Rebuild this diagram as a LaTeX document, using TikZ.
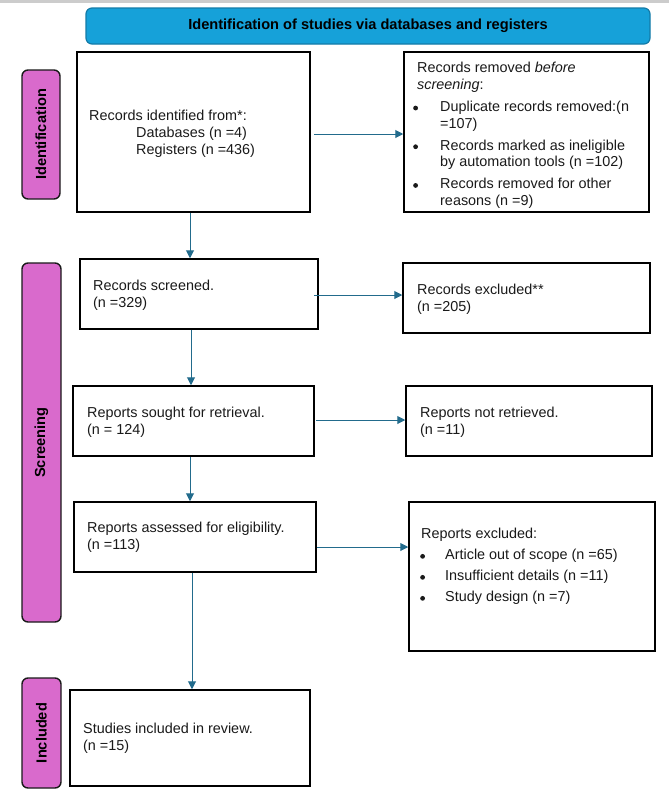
\documentclass[tikz,border=0pt]{standalone}
\usepackage{fontspec}
\setmainfont{Liberation Sans}
\usetikzlibrary{arrows.meta,calc}
\definecolor{titleblue}{HTML}{16A1D9}
\definecolor{titleedge}{HTML}{137BA8}
\definecolor{phasepink}{HTML}{D96ACC}
\definecolor{arrowblue}{HTML}{226B8C}
\definecolor{textdark}{HTML}{1A1A1A}
\newcommand{\blt}{\raisebox{0.8pt}{\tikz[baseline=-2.5pt]\fill[textdark] (0,0) circle (2.4pt);}}
\begin{document}
\begin{tikzpicture}[x=1pt,y=-1pt,
  box/.style={draw=black, line width=1.5pt, fill=white, inner sep=0pt},
  phase/.style={draw=textdark, line width=1.4pt, fill=phasepink, rounded corners=6pt, inner sep=0pt,
    font=\fontsize{14.6}{16}\selectfont\bfseries, text=black},
  titlebox/.style={draw=titleedge, line width=1.2pt, fill=titleblue, rounded corners=6pt, inner sep=0pt,
    font=\fontsize{14.6}{16}\selectfont\bfseries, text=black},
  arr/.style={draw=arrowblue, line width=1pt, -{Triangle[length=8pt,width=8pt]}},
  txt/.style={anchor=north west, inner sep=0pt, align=left, text=textdark,
    font=\fontsize{14.4}{16.7}\selectfont},
]
\useasboundingbox (0,0) rectangle (669,793);
\fill[white] (0,0) rectangle (669,793);
\fill[black!20] (0,0) rectangle (669,3);

% title
\node[titlebox, minimum width=564pt, minimum height=36pt] (ttl) at (368,26)
  {Identification of studies via databases and registers};

% phase labels
\node[phase, rotate=90, minimum width=129pt, minimum height=38pt] (lid) at (41,134.5) {Identification};
\node[phase, rotate=90, minimum width=359pt, minimum height=39pt] (lsc) at (41.5,442.5) {Screening};
\node[phase, rotate=90, minimum width=110pt, minimum height=39pt] (lin) at (41.5,733) {Included};

% boxes
\node[box, minimum width=233pt, minimum height=160pt] (b1) at (193.5,132) {};
\node[box, minimum width=245pt, minimum height=160pt] (b2) at (526.5,132) {};
\node[box, minimum width=238pt, minimum height=70pt]  (b3) at (199,294) {};
\node[box, minimum width=247pt, minimum height=70pt]  (b4) at (526.5,298) {};
\node[box, minimum width=241pt, minimum height=70pt]  (b5) at (193.5,421) {};
\node[box, minimum width=246pt, minimum height=70pt]  (b6) at (529,421) {};
\node[box, minimum width=242pt, minimum height=70pt]  (b7) at (195,537) {};
\node[box, minimum width=246pt, minimum height=149pt] (b8) at (532,576.5) {};
\node[box, minimum width=240pt, minimum height=96pt]  (b9) at (190,738) {};

% texts
\node[txt] (t1) at (89,110) {Records identified from*:\\
  \hspace*{47pt}Databases (n =4)\\
  \hspace*{47pt}Registers (n =436)};
\node[txt] (t2) at (413,62) {\hspace*{4pt}Records removed \textit{before}\\
  \hspace*{4pt}\textit{screening}:\\[5.3pt]
  \makebox[27pt][l]{\blt}Duplicate records removed:(n\\
  \hspace*{27pt}=107)\\[5.3pt]
  \makebox[27pt][l]{\blt}Records marked as ineligible\\
  \hspace*{27pt}by automation tools (n =102)\\[5.3pt]
  \makebox[27pt][l]{\blt}Records removed for other\\
  \hspace*{27pt}reasons (n =9)};
\node[txt] (t3) at (93,280) {Records screened.\\(n =329)};
\node[txt] (t4) at (417,284) {Records excluded**\\(n =205)};
\node[txt] (t5) at (87,407) {Reports sought for retrieval.\\(n = 124)};
\node[txt] (t6) at (420,407) {Reports not retrieved.\\(n =11)};
\node[txt] (t7) at (87,522) {Reports assessed for eligibility.\\(n =113)};
\node[txt] (t8) at (420,528) {\hspace*{1pt}Reports excluded:\\[4.3pt]
  \makebox[25pt][l]{\blt}Article out of scope (n =65)\\[4.3pt]
  \makebox[25pt][l]{\blt}Insufficient details (n =11)\\[4.3pt]
  \makebox[25pt][l]{\blt}Study design (n =7)};
\node[txt] (t9) at (83,723) {Studies included in review.\\(n =15)};

% arrows
\draw[arr] ($(b1.east)+(3,2)$) -- ($(b2.west)+(0,2)$);
\draw[arr] ($(b1.south)+(-3.5,0)$) -- ($(b1.south |- b3.north)+(-3.5,0)$);
\draw[arr] ($(b3.east)+(-5,1)$) -- ($(b3.east -| b4.west)+(0,1)$);
\draw[arr] ($(b3.south)+(-8,0)$) -- ($(b3.south |- b5.north)+(-8,0)$);
\draw[arr] ($(b5.east)+(1,-1)$) -- ($(b5.east -| b6.west)+(0,-1)$);
\draw[arr] ($(b5.south)+(-3.5,0)$) -- ($(b5.south |- b7.north)+(-3.5,0)$);
\draw[arr] ($(b7.east)+(0,10)$) -- ($(b7.east -| b8.west)+(0,10)$);
\draw[arr] ($(b7.south)+(-3,0)$) -- ($(b7.south |- b9.north)+(-3,0)$);
\end{tikzpicture}
\end{document}
